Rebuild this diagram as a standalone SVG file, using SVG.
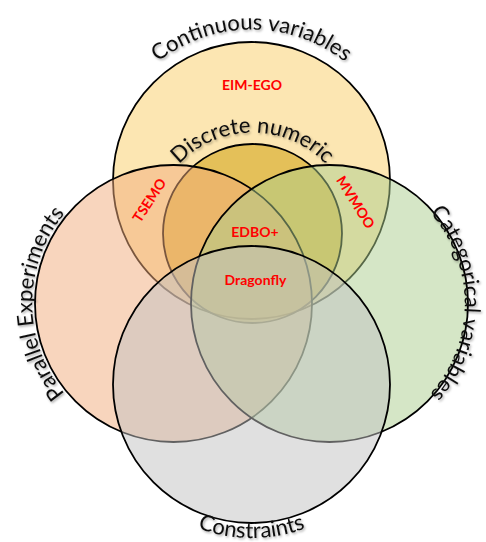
<svg xmlns="http://www.w3.org/2000/svg" width="486" height="542" viewBox="0 0 486 542">
  <style>
    .set { stroke: #000; stroke-width: 1.8; fill-opacity: 0.5; }
    .title { font-family: Lato, "Open Sans", "Liberation Sans", sans-serif; font-size: 22px; fill: #111; filter: url(#shadow); }
    .method { font-family: Lato, "Open Sans", "Liberation Sans", sans-serif; font-size: 14px; font-weight: bold; fill: #F00; text-anchor: middle; }
  </style>
  <defs>
    <filter id="shadow" x="-10%" y="-30%" width="120%" height="160%">
      <feDropShadow dx="1.2" dy="1.5" stdDeviation="1.2" flood-color="#000" flood-opacity="0.35"/>
    </filter>
    <path id="arcContinuous" d="M109.6,128.9 A151,151 0 0 1 393.4,128.9"/>
    <path id="arcDiscrete" d="M157.6,199.0 A101,101 0 0 1 347.4,199.0"/>
    <path id="arcParallel" d="M149,442.4 A141,141 0 0 1 149,164.6"/>
    <path id="arcCategorical" d="M353.0,170.1 A135.5,135.5 0 0 1 353.0,436.9"/>
    <path id="arcConstraints" d="M174.75,517.4 A153.5,153.5 0 0 0 328.25,517.4"/>
  </defs>
  <rect width="486" height="542" fill="#fff"/>

  <g id="continuous-variables">
    <circle class="set" cx="251.5" cy="180.5" r="138.5" fill="#F9CD65"/>
    <text class="title"><textPath href="#arcContinuous" startOffset="50%" text-anchor="middle">Continuous variables</textPath></text>
  </g>
  <g id="discrete-numeric">
    <circle class="set" cx="252.5" cy="233.5" r="89.5" fill="#CC9900" fill-opacity="0.4"/>
    <text class="title"><textPath href="#arcDiscrete" startOffset="50%" text-anchor="middle">Discrete numeric</textPath></text>
  </g>
  <g id="parallel-experiments">
    <circle class="set" cx="173.5" cy="303.5" r="138.5" fill="#F1AB7B"/>
    <text class="title"><textPath href="#arcParallel" startOffset="50%" text-anchor="middle">Parallel Experiments</textPath></text>
  </g>
  <g id="categorical-variables">
    <circle class="set" cx="329.5" cy="303.5" r="138.5" fill="#ABCD8D"/>
    <text class="title" font-size="21"><textPath href="#arcCategorical" startOffset="50%" text-anchor="middle">Categorical variables</textPath></text>
  </g>
  <g id="constraints">
    <circle class="set" cx="251.5" cy="384.5" r="138.5" fill="#C1C1C1"/>
    <text class="title"><textPath href="#arcConstraints" startOffset="50%" text-anchor="middle">Constraints</textPath></text>
  </g>

  <g id="methods">
    <text class="method" x="252" y="89.5">EIM-EGO</text>
    <text class="method" x="149" y="200" dominant-baseline="central" transform="rotate(-57 149 200)">TSEMO</text>
    <text class="method" x="356" y="202" dominant-baseline="central" transform="rotate(58 356 202)">MVMOO</text>
    <text class="method" x="255" y="236.5">EDBO+</text>
    <text class="method" x="255.5" y="285">Dragonfly</text>
  </g>
</svg>
